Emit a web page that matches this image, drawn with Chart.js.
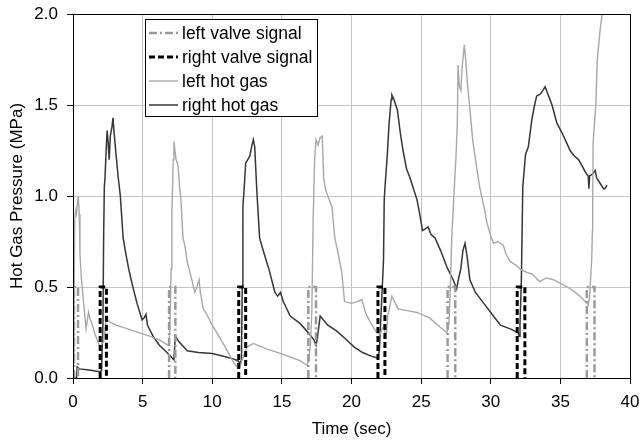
<!DOCTYPE html>
<html>
<head>
<meta charset="utf-8">
<script src="https://cdn.jsdelivr.net/npm/chart.js@4"></script>
<style>
  body { margin: 0; background: #fff; }
</style>
</head>
<body>
<canvas id="pressure" width="640" height="442"></canvas>
<script>
// valve signal pulses (sec), height in MPa
const leftValveOn = [0.07, 6.9, 16.9, 26.9, 36.9];
const leftValveOff = [0.36, 7.35, 17.45, 27.45, 37.45];
const rightValveOn = [1.95, 11.9, 21.9, 31.9];
const rightValveOff = [2.4, 12.4, 22.4, 32.45];
const valveLevel = 0.5;

// left hot gas pressure
const leftGasTime = [0.0, 0.07, 0.12, 0.18, 0.25, 0.3, 0.38, 0.45, 0.5, 0.6, 0.75, 0.94, 1.05, 1.12, 1.2, 1.35, 1.58, 1.94, 2.1, 2.2, 2.3, 2.37, 2.6, 3.1, 4.3, 5.5, 6.2, 6.85,
  6.95, 7.05, 7.1, 7.2, 7.25, 7.32, 7.4, 7.5, 7.55, 7.65, 7.75, 7.9, 8.05, 8.2, 8.5, 8.75, 8.9, 9.05, 9.15, 9.35, 9.6, 10.0, 10.55, 11.0, 11.5, 11.85,
  12.0, 12.1, 12.3, 12.5, 12.95, 13.9, 15.1, 16.3, 16.8, 16.95, 17.05, 17.15, 17.25, 17.35, 17.45, 17.6, 17.75, 17.9, 18.0, 18.15, 18.3, 18.6, 18.8,
  19.0, 19.3, 19.5, 20.0, 20.4, 20.75, 21.0, 21.4, 21.8, 22.05, 22.2, 22.3, 22.5, 22.6, 22.9, 23.35, 24.0, 24.7, 25.6, 26.35, 26.85,
  27.0, 27.1, 27.2, 27.35, 27.5, 27.6, 27.65, 27.75, 27.85, 27.95, 28.1, 28.2, 28.3, 28.5, 28.7, 29.0, 29.2, 29.6, 29.7, 30.0, 30.2, 30.5, 30.9,
  31.1, 31.4, 31.8, 32.1, 32.3, 32.6, 33.0, 33.5, 34.0, 34.5, 35.0, 35.5, 35.9, 36.4, 36.9, 37.0, 37.1, 37.25, 37.3, 37.32, 37.35, 37.55, 37.65, 37.85, 38.0];
const leftGasP = [0.08, 0.3, 0.85, 0.92, 0.9, 0.95, 1.0, 0.9, 0.68, 0.55, 0.42, 0.27, 0.33, 0.36, 0.33, 0.3, 0.24, 0.17, 0.19, 0.2, 0.26, 0.33, 0.31, 0.29, 0.26, 0.23, 0.21, 0.18,
  0.25, 0.6, 0.9, 1.2, 1.3, 1.25, 1.2, 1.18, 1.16, 1.05, 0.98, 0.77, 0.72, 0.64, 0.55, 0.47, 0.5, 0.54, 0.47, 0.38, 0.35, 0.29, 0.22, 0.16, 0.09, 0.055,
  0.06, 0.09, 0.13, 0.17, 0.19, 0.16, 0.13, 0.095, 0.07, 0.1, 0.19, 0.36, 0.88, 1.2, 1.31, 1.28, 1.32, 1.33, 1.1, 1.03, 1.0, 0.94, 0.77,
  0.7, 0.58, 0.42, 0.41, 0.42, 0.43, 0.36, 0.3, 0.25, 0.24, 0.27, 0.28, 0.23, 0.34, 0.45, 0.38, 0.37, 0.36, 0.33, 0.28, 0.25,
  0.3, 0.5, 0.77, 1.0, 1.21, 1.4, 1.72, 1.6, 1.58, 1.71, 1.83, 1.75, 1.64, 1.48, 1.31, 1.15, 1.05, 0.91, 0.86, 0.78, 0.74, 0.75, 0.73,
  0.68, 0.64, 0.62, 0.6, 0.59, 0.58, 0.57, 0.53, 0.55, 0.54, 0.52, 0.5, 0.48, 0.45, 0.41, 0.4, 0.45, 0.65, 0.81, 0.92, 1.29, 1.51, 1.75, 1.91, 2.0];

// right hot gas pressure
const rightGasTime = [0.0, 0.25, 0.3, 0.45, 1.0, 1.5, 1.95, 2.05, 2.15, 2.2, 2.25, 2.3, 2.38, 2.45, 2.52, 2.6, 2.68, 2.8, 2.87, 2.95, 3.1, 3.25, 3.4, 3.6, 3.8, 4.0,
  4.3, 4.6, 4.96, 5.1, 5.24, 5.35, 5.75, 6.2, 6.75, 7.0, 7.25, 7.3, 7.35, 7.6, 8.2, 9.0, 10.0, 10.8, 11.5, 11.85,
  12.0, 12.1, 12.15, 12.2, 12.3, 12.4, 12.55, 12.7, 12.85, 12.95, 13.05, 13.2, 13.4, 13.7, 13.9, 14.1, 14.3, 14.5, 14.7, 14.9, 15.1, 15.6, 16.3, 17.0,
  17.3, 17.45, 17.55, 17.75, 18.3, 18.9, 19.5, 20.2, 20.8, 21.4, 21.9, 22.0, 22.15, 22.3, 22.35, 22.45, 22.55, 22.7, 22.85, 22.9, 23.05, 23.3, 23.5,
  23.7, 23.95, 24.2, 24.45, 24.7, 24.9, 25.1, 25.3, 25.5, 25.7, 26.0, 26.4, 26.85, 27.1, 27.3, 27.55, 27.7, 27.85, 28.0, 28.15, 28.3, 28.5, 28.9,
  29.5, 30.0, 30.3, 30.7, 31.4, 31.95, 32.05, 32.1, 32.2, 32.3, 32.5, 32.7, 32.95, 33.15, 33.3, 33.55, 33.75, 33.9, 34.1, 34.4, 34.75, 35.1, 35.4,
  35.7, 36.0, 36.3, 36.6, 36.8, 37.0, 37.05, 37.1, 37.3, 37.5, 37.6, 37.85, 38.1, 38.2, 38.35];
const rightGasP = [0.0, 0.0, 0.06, 0.05, 0.045, 0.04, 0.035, 0.04, 0.3, 0.77, 1.05, 1.1, 1.25, 1.36, 1.3, 1.2, 1.33, 1.38, 1.43, 1.35, 1.22, 1.1, 1.0, 0.77, 0.68, 0.6,
  0.5, 0.41, 0.32, 0.33, 0.35, 0.29, 0.23, 0.18, 0.14, 0.12, 0.1, 0.17, 0.23, 0.2, 0.15, 0.14, 0.135, 0.12, 0.105, 0.095,
  0.08, 0.1, 0.5, 0.94, 1.05, 1.18, 1.2, 1.22, 1.28, 1.31, 1.27, 1.03, 0.77, 0.69, 0.64, 0.59, 0.53, 0.47, 0.45, 0.47, 0.42, 0.34, 0.3, 0.24,
  0.21, 0.18, 0.22, 0.34, 0.29, 0.26, 0.22, 0.17, 0.14, 0.12, 0.11, 0.15, 0.4, 0.65, 0.98, 1.1, 1.2, 1.4, 1.53, 1.555, 1.53, 1.47, 1.35,
  1.25, 1.15, 1.1, 1.04, 0.98, 0.9, 0.81, 0.82, 0.83, 0.79, 0.77, 0.7, 0.61, 0.57, 0.54, 0.49, 0.55, 0.6, 0.7, 0.74, 0.67, 0.54, 0.47,
  0.41, 0.36, 0.33, 0.29, 0.27, 0.25, 0.23, 0.3, 0.54, 1.05, 1.23, 1.27, 1.42, 1.5, 1.55, 1.56, 1.58, 1.6, 1.56, 1.5, 1.4, 1.35, 1.3,
  1.25, 1.22, 1.2, 1.16, 1.13, 1.11, 1.04, 1.11, 1.12, 1.14, 1.1, 1.07, 1.04, 1.04, 1.06];

const xTicks = { min: 0, max: 40, step: 5 };
const yTicks = { min: 0, max: 2.0, step: 0.5 };

function pulses(on, off) {
  let pts = [];
  on.forEach((t, i) => {
    pts.push({ x: t, y: 0 }, { x: t, y: valveLevel }, { x: off[i], y: valveLevel }, { x: off[i], y: 0 }, { x: off[i], y: null });
  });
  return pts;
}

function curve(times, values) {
  return times.map((t, i) => ({ x: t, y: values[i] }));
}

const FONT = "'Liberation Sans', Arial, sans-serif";

// legend drawn inside plot area with a black frame
const legendBox = {
  id: "legendBox",
  afterDraw(chart) {
    const ctx = chart.ctx;
    const x0 = chart.chartArea.left + 72;
    const y0 = chart.chartArea.top + 5;
    const w = 172, h = 97;
    ctx.save();
    ctx.fillStyle = "#fff";
    ctx.fillRect(x0, y0, w, h);
    ctx.strokeStyle = "#000";
    ctx.lineWidth = 1;
    ctx.strokeRect(x0 + 0.5, y0 + 0.5, w, h);
    ctx.font = "17.5px " + FONT;
    ctx.textBaseline = "middle";
    chart.data.datasets.forEach((ds, i) => {
      const y = y0 + 14 + i * 24;
      ctx.beginPath();
      ctx.strokeStyle = ds.borderColor;
      ctx.lineWidth = ds.borderWidth;
      ctx.setLineDash(ds.borderDash || []);
      ctx.moveTo(x0 + 4, y);
      ctx.lineTo(x0 + 33, y);
      ctx.stroke();
      ctx.setLineDash([]);
      ctx.fillStyle = "#000";
      ctx.fillText(ds.label, x0 + 37, y + 1);
    });
    ctx.restore();
  },
};

// black frame around the plot area
const frame = {
  id: "frame",
  afterDatasetsDraw(chart) {
    const a = chart.chartArea;
    const ctx = chart.ctx;
    ctx.save();
    ctx.strokeStyle = "#000";
    ctx.lineWidth = 1;
    ctx.strokeRect(Math.round(a.left) + 0.5, Math.round(a.top) + 0.5, Math.round(a.right - a.left), Math.round(a.bottom - a.top));
    ctx.restore();
  },
};

const ctx = document.getElementById("pressure");
const chart = new Chart(ctx, {
  type: "line",
  data: {
    datasets: [
      {
        label: "left valve signal",
        data: pulses(leftValveOn, leftValveOff),
        borderColor: "#9a9a9a",
        borderWidth: 2.5,
        borderDash: [8, 3, 2, 3],
      },
      {
        label: "right valve signal",
        data: pulses(rightValveOn, rightValveOff),
        borderColor: "#000",
        borderWidth: 3,
        borderDash: [6, 3],
      },
      {
        label: "left hot gas",
        data: curve(leftGasTime, leftGasP),
        borderColor: "#a8a8a8",
        borderWidth: 1.4,
      },
      {
        label: "right hot gas",
        data: curve(rightGasTime, rightGasP),
        borderColor: "#363636",
        borderWidth: 1.5,
      },
    ],
  },
  options: {
    responsive: false,
    animation: false,
    devicePixelRatio: 1,
    spanGaps: false,
    elements: { point: { radius: 0 }, line: { tension: 0 } },
    layout: { padding: { left: 0, right: 10, top: 14, bottom: 0 } },
    plugins: { legend: { display: false }, tooltip: { enabled: false } },
    scales: {
      x: {
        type: "linear",
        min: xTicks.min,
        max: xTicks.max,
        afterFit: (s) => { s.height = 64; s.paddingLeft = 0; s.paddingRight = 0; },
        ticks: { stepSize: xTicks.step, color: "#000", padding: 8, font: { family: FONT, size: 17 } },
        grid: { color: "#c4c4c4", tickColor: "#000", tickLength: 6 },
        border: { color: "#000" },
        title: { display: true, text: "Time (sec)", color: "#000", font: { family: FONT, size: 17 }, padding: { top: 0, bottom: 2 } },
      },
      y: {
        min: yTicks.min,
        max: yTicks.max,
        afterFit: (s) => { s.width = 73; s.paddingTop = 0; s.paddingBottom = 0; },
        ticks: { stepSize: yTicks.step, color: "#000", padding: 9, font: { family: FONT, size: 17 }, callback: (v) => v.toFixed(1) },
        grid: { color: "#c4c4c4", tickColor: "#000", tickLength: 6 },
        border: { color: "#000" },
        title: { display: true, text: "Hot Gas Pressure (MPa)", color: "#000", font: { family: FONT, size: 17 }, padding: { top: 7, bottom: 0 } },
      },
    },
  },
  plugins: [frame, legendBox],
});
</script>
</body>
</html>
